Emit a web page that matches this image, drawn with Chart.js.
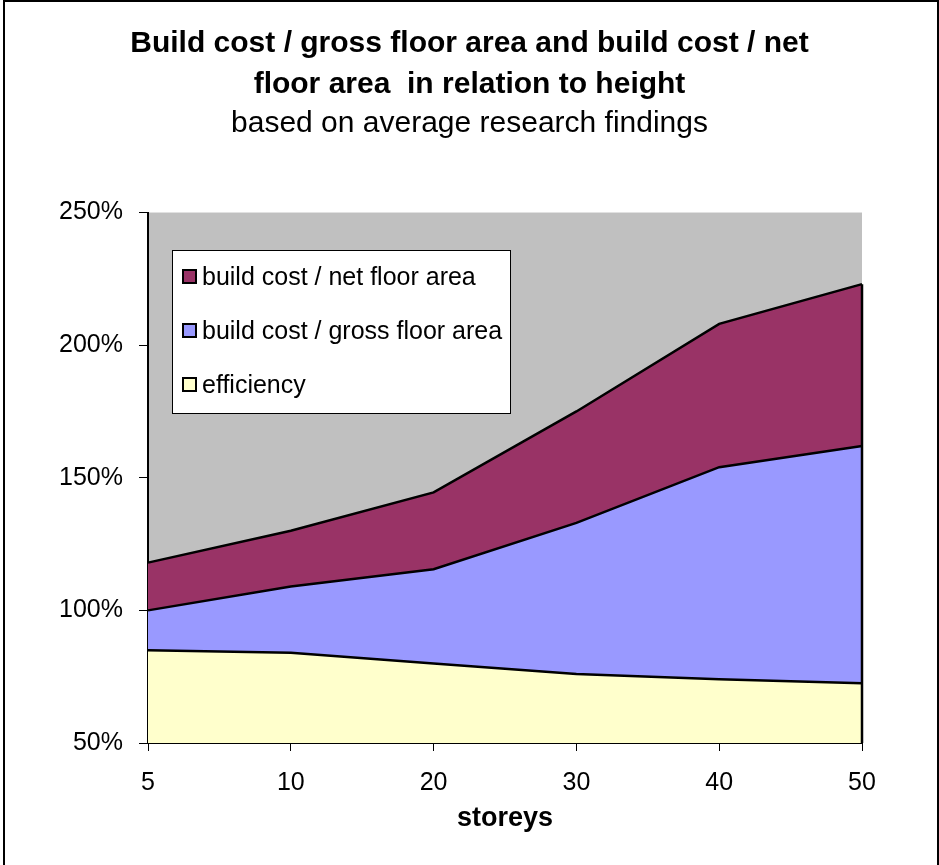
<!DOCTYPE html>
<html>
<head>
<meta charset="utf-8">
<script src="https://cdn.jsdelivr.net/npm/chart.js@4/dist/chart.umd.min.js"></script>
<style>
  html, body { margin: 0; padding: 0; background: #fff; }
  #wrap { width: 939px; height: 865px; position: relative; }
</style>
</head>
<body>
<div id="wrap"><canvas id="c"></canvas></div>
<script>
const storeys = ['5', '10', '20', '30', '40', '50'];
const efficiency = [85, 84, 80, 76, 74, 72.5];
const grossCost = [100, 109, 115.5, 133, 154, 162];
const netCost = [118, 130, 144.5, 175, 208, 223];
const yTicks = [50, 100, 150, 200, 250];

const titleLines = ['Build cost / gross floor area and build cost / net', 'floor area  in relation to height'];
const subtitleText = 'based on average research findings';

const FONT = '"Liberation Sans", Arial, sans-serif';

const plotBg = {
  id: 'plotBg',
  beforeDraw(chart) {
    const { ctx, chartArea: a } = chart;
    ctx.save();
    ctx.fillStyle = '#C0C0C0';
    ctx.fillRect(a.left, a.top, a.right - a.left, a.bottom - a.top);
    ctx.restore();
  }
};

const edgeLine = {
  id: 'edgeLine',
  afterDatasetsDraw(chart) {
    const { ctx } = chart;
    const xs = chart.scales.x, ys = chart.scales.y;
    const last = storeys.length - 1;
    const top = Math.max(...chart.data.datasets.map(d => d.data[last]));
    ctx.save();
    ctx.strokeStyle = '#000';
    ctx.lineWidth = 2.5;
    ctx.beginPath();
    const x = xs.getPixelForValue(last);
    ctx.moveTo(x, ys.getPixelForValue(top));
    ctx.lineTo(x, ys.getPixelForValue(50));
    ctx.stroke();
    ctx.restore();
  }
};

const boxLegend = {
  id: 'boxLegend',
  afterDraw(chart) {
    const { ctx } = chart;
    const ds = chart.data.datasets.slice().reverse();
    const bx = 172, by = 250, bw = 338, bh = 163;
    ctx.save();
    ctx.fillStyle = '#fff';
    ctx.fillRect(bx, by, bw, bh);
    ctx.strokeStyle = '#000';
    ctx.lineWidth = 1;
    ctx.strokeRect(bx + 0.5, by + 0.5, bw, bh);
    ctx.font = '25px ' + FONT;
    ctx.textBaseline = 'middle';
    ds.forEach((d, i) => {
      const cy = 277 + i * 54;
      ctx.fillStyle = d.backgroundColor;
      ctx.fillRect(183, cy - 7, 13, 13);
      ctx.strokeStyle = '#000';
      ctx.lineWidth = 2;
      ctx.strokeRect(183, cy - 7, 13, 13);
      ctx.fillStyle = '#000';
      ctx.fillText(d.label, 202, cy + 1);
    });
    ctx.restore();
  }
};

const frame = {
  id: 'frame',
  afterDraw(chart) {
    const { ctx } = chart;
    ctx.save();
    ctx.strokeStyle = '#000';
    ctx.lineWidth = 2;
    ctx.strokeRect(4, 1, 934, 900);
    ctx.restore();
  }
};

new Chart(document.getElementById('c'), {
  type: 'line',
  data: {
    labels: storeys,
    datasets: [
      { label: 'efficiency', data: efficiency, backgroundColor: '#FFFFCC', borderColor: '#000', borderWidth: 2.5, fill: 'start', pointRadius: 0, tension: 0 },
      { label: 'build cost / gross floor area', data: grossCost, backgroundColor: '#9999FF', borderColor: '#000', borderWidth: 2.5, fill: 'start', pointRadius: 0, tension: 0 },
      { label: 'build cost / net floor area', data: netCost, backgroundColor: '#993366', borderColor: '#000', borderWidth: 2.5, fill: 'start', pointRadius: 0, tension: 0 }
    ]
  },
  options: {
    responsive: true,
    maintainAspectRatio: false,
    animation: false,
    layout: { padding: { left: 0, right: 0, top: 0, bottom: 30 } },
    plugins: {
      legend: { display: false },
      tooltip: { enabled: false },
      title: {
        display: true,
        text: titleLines,
        color: '#000',
        font: { family: FONT, size: 30, weight: 'bold', lineHeight: 1.367 },
        padding: { top: 23, bottom: 0 }
      },
      subtitle: {
        display: true,
        text: subtitleText,
        color: '#000',
        font: { family: FONT, size: 30, weight: 'normal', lineHeight: 1.25 },
        padding: { top: 0, bottom: 70 }
      }
    },
    scales: {
      x: {
        type: 'category',
        offset: false,
        grid: { drawOnChartArea: false, drawTicks: true, tickLength: 8, color: '#000', lineWidth: 1 },
        border: { display: true, color: '#000', width: 2 },
        ticks: { color: '#000', font: { family: FONT, size: 25 }, padding: 17, maxRotation: 0 },
        title: { display: true, text: 'storeys', color: '#000', font: { family: FONT, size: 27, weight: 'bold' }, padding: 0 },
        afterFit(scale) { scale.height = 92; }
      },
      y: {
        min: 50,
        max: 250,
        afterBuildTicks(scale) { scale.ticks = yTicks.map(v => ({ value: v })); },
        grid: { drawOnChartArea: false, drawTicks: true, tickLength: 9, color: '#000', lineWidth: 1 },
        border: { display: true, color: '#000', width: 2 },
        ticks: { color: '#000', font: { family: FONT, size: 25 }, padding: 16, callback: v => v + '%' },
        afterFit(scale) { scale.width = 148; }
      },
      yRight: {
        position: 'right',
        min: 0,
        max: 1,
        grid: { display: false },
        border: { display: false },
        ticks: { display: false },
        afterFit(scale) { scale.width = 77; }
      }
    }
  },
  plugins: [plotBg, edgeLine, boxLegend, frame]
});
</script>
</body>
</html>
